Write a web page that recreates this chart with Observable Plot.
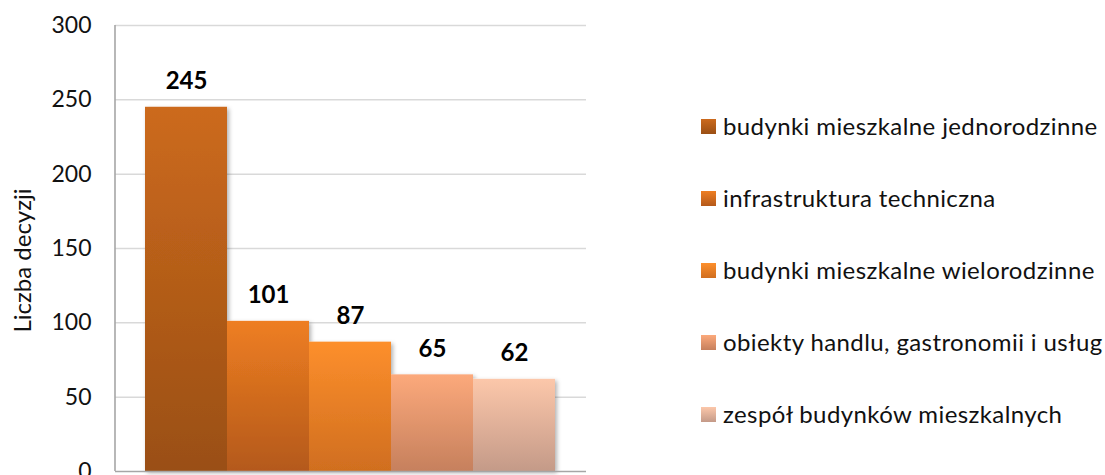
<!DOCTYPE html>
<html><head><meta charset="utf-8">
<script src="https://cdn.jsdelivr.net/npm/d3@7"></script>
<script src="https://cdn.jsdelivr.net/npm/@observablehq/plot@0.6"></script>
<style>
html,body{margin:0;padding:0;background:#fff;}
#wrap{position:relative;width:1105px;height:475px;font-family:Lato, "Open Sans", sans-serif;}
#wrap svg{position:absolute;left:0;top:0;}
#legend{position:absolute;left:701px;top:90px;}
.row{height:72px;display:flex;align-items:center;}
.sw{width:15px;height:15px;margin-right:7px;flex:none;}
.lab{font-size:24px;letter-spacing:0.4px;color:#111;white-space:nowrap;line-height:1;}
</style></head>
<body><div id="wrap"></div>
<script>
const categories = [
  "budynki mieszkalne jednorodzinne",
  "infrastruktura techniczna",
  "budynki mieszkalne wielorodzinne",
  "obiekty handlu, gastronomii i usług",
  "zespół budynków mieszkalnych"
];
const values = [245, 101, 87, 65, 62];
const yTicks = [0, 50, 100, 150, 200, 250, 300];
const yTitle = "Liczba decyzji";
const topColors = ["#CC6A1D", "#EE7E22", "#FD8F2C", "#FCA97B", "#FCC7AA"];
const bottomColors = ["#9A4F14", "#B4591A", "#D06E1F", "#C6805D", "#C49A88"];

const rows = categories.map((c, i) => ({cat: c, value: values[i], fill: `url(#grad${i})`}));

const chart = Plot.plot({
  width: 1105, height: 475,
  marginLeft: 115, marginRight: 519, marginTop: 25, marginBottom: 4,
  style: {fontFamily: "Lato, 'Open Sans', sans-serif", fontSize: "23px", background: "transparent", color: "#111", overflow: "visible"},
  x: {domain: categories, range: [145, 555], padding: 0, axis: null},
  y: {domain: [0, 300]},
  color: {type: "identity"},
  marks: [
    Plot.ruleY(yTicks.filter(d => d > 0), {stroke: "#d9d9d9", strokeWidth: 1.5}),
    Plot.barY(rows, {x: "cat", y: "value", fill: "fill"}),
    Plot.ruleY([0], {stroke: "#a6a6a6", strokeWidth: 1.6}),
    Plot.axisY({ticks: yTicks, tickSize: 0, tickPadding: 24, label: null, fontSize: 23}),
    Plot.text(rows, {x: "cat", y: "value", text: d => String(d.value), lineAnchor: "bottom", dy: -18, fontWeight: "bold", fontSize: 24, fill: "#000"}),
    Plot.text([yTitle], {frameAnchor: "left", textAnchor: "middle", text: d => d, rotate: -90, dx: -92, dy: 12, fontSize: 24, fill: "#111"})
  ]
});

// gradients and shadow
const svg = d3.select(chart);
const defs = svg.insert("defs", ":first-child");
topColors.forEach((c, i) => {
  const g = defs.append("linearGradient").attr("id", `grad${i}`).attr("x1", 0).attr("y1", 0).attr("x2", 0).attr("y2", 1);
  g.append("stop").attr("offset", "0%").attr("stop-color", c);
  g.append("stop").attr("offset", "100%").attr("stop-color", bottomColors[i]);
});
const f = defs.append("filter").attr("id", "shadow").attr("x", "-10%").attr("y", "-10%").attr("width", "130%").attr("height", "130%");
f.append("feDropShadow").attr("dx", 2).attr("dy", 2).attr("stdDeviation", 2).attr("flood-color", "#000").attr("flood-opacity", 0.3);
svg.select('g[aria-label="bar"]').attr("filter", "url(#shadow)");

// left axis line via y scale
const ys = chart.scale("y");
svg.append("line")
  .attr("x1", 115).attr("x2", 115)
  .attr("y1", ys.apply(0)).attr("y2", ys.apply(300))
  .attr("stroke", "#a6a6a6").attr("stroke-width", 1.6);

const wrap = document.getElementById("wrap");
wrap.appendChild(chart);

// legend
const legend = document.createElement("div");
legend.id = "legend";
categories.forEach((c, i) => {
  const row = document.createElement("div");
  row.className = "row";
  const sw = document.createElement("span");
  sw.className = "sw";
  sw.style.background = `linear-gradient(to bottom, ${topColors[i]}, ${bottomColors[i]})`;
  const lab = document.createElement("span");
  lab.className = "lab";
  lab.textContent = c;
  row.appendChild(sw); row.appendChild(lab);
  legend.appendChild(row);
});
wrap.appendChild(legend);
</script>
</body></html>
